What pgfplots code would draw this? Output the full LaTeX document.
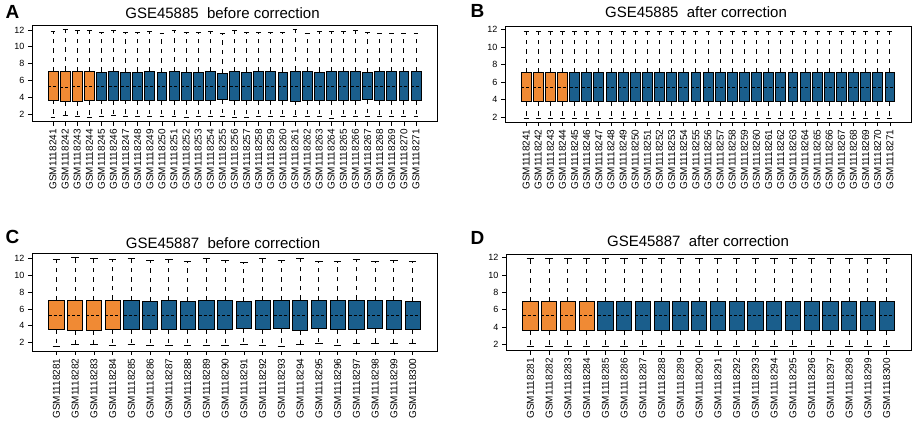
\documentclass[border=0pt]{standalone}
\usepackage{pgfplots}
\usepgfplotslibrary{statistics}
\pgfplotsset{compat=1.18}
\usepackage{fontspec}
\setmainfont{Liberation Sans}

\definecolor{cOr}{RGB}{240,138,52}
\definecolor{cBl}{RGB}{26,94,140}

% one prepared box: style, position, lower whisker, lower quartile, median, upper quartile, upper whisker
\newcommand\bx[7]{\addplot[#1, boxplot prepared={draw position=#2,
  lower whisker=#3, lower quartile=#4, median=#5, upper quartile=#6, upper whisker=#7}] coordinates {};}

\pgfplotsset{
  panel/.style={
    scale only axis, anchor=south west,
    tick align=outside, tick pos=left,
    major tick length=4pt,
    ytick={2,4,6,8,10,12},
    xtick={1,...,#1},
    /pgf/number format/assume math mode=true,
    xticklabel style={rotate=90, anchor=east, font=\fontsize{10}{10}\selectfont},
    yticklabel style={font=\fontsize{9}{9}\selectfont},
    axis line style={line width=0.9pt},
    every tick/.style={black, line width=0.7pt},
    boxplot/draw direction=y,
    boxplot/box extend=0.82,
    boxplot/whisker extend=0.4,
    boxplot/every median/.style={dash pattern=on 3pt off 2pt, line width=1pt},
    boxplot/draw/lower whisker/.code={%
      \draw[dash pattern=on 4.5pt off 5pt]
        (boxplot cs:\pgfplotsboxplotvalue{lower quartile}) --
        (boxplot cs:\pgfplotsboxplotvalue{lower whisker});
      \draw (boxplot whisker cs:\pgfplotsboxplotvalue{lower whisker},0) --
        (boxplot whisker cs:\pgfplotsboxplotvalue{lower whisker},1);
    },
    boxplot/draw/upper whisker/.code={%
      \draw[dash pattern=on 4.5pt off 5pt]
        (boxplot cs:\pgfplotsboxplotvalue{upper quartile}) --
        (boxplot cs:\pgfplotsboxplotvalue{upper whisker});
      \draw (boxplot whisker cs:\pgfplotsboxplotvalue{upper whisker},0) --
        (boxplot whisker cs:\pgfplotsboxplotvalue{upper whisker},1);
    },
  },
  ob/.style={black, line width=0.9pt, boxplot/every box/.style={fill=cOr, draw=black, line width=0.8pt}},
  bb/.style={black, line width=0.9pt, boxplot/every box/.style={fill=cBl, draw=black, line width=0.8pt}},
}

\tikzset{
  ptitle/.style={anchor=base, font=\fontsize{15}{15}\selectfont},
  pletter/.style={anchor=base west, font=\bfseries\fontsize{19}{19}\selectfont},
}

\begin{document}
\begin{tikzpicture}
\useasboundingbox (0,0) rectangle (913pt,428pt);

% ---------------- A ----------------
\begin{axis}[panel=31, at={(32pt,306.3pt)}, width=405pt, height=96.7pt,
  xmin=-0.74, xmax=32.74, ymin=1.12, ymax=12.59,
  xticklabels={GSM1118241,GSM1118242,GSM1118243,GSM1118244,GSM1118245,GSM1118246,
    GSM1118247,GSM1118248,GSM1118249,GSM1118250,GSM1118251,GSM1118252,GSM1118253,
    GSM1118254,GSM1118255,GSM1118256,GSM1118257,GSM1118258,GSM1118259,GSM1118260,
    GSM1118261,GSM1118262,GSM1118263,GSM1118264,GSM1118265,GSM1118266,GSM1118267,
    GSM1118268,GSM1118269,GSM1118270,GSM1118271}]
\bx{ob}{1}{1.64}{3.70}{5.30}{7.06}{11.80}
\bx{ob}{2}{1.92}{3.54}{5.22}{7.14}{12.08}
\bx{ob}{3}{1.80}{3.56}{5.25}{7.06}{12.00}
\bx{ob}{4}{1.64}{3.62}{5.30}{7.06}{11.92}
\bx{bb}{5}{1.72}{3.70}{5.28}{7.02}{11.72}
\bx{bb}{6}{1.92}{3.68}{5.28}{7.08}{11.92}
\bx{bb}{7}{1.72}{3.70}{5.30}{6.98}{11.72}
\bx{bb}{8}{1.72}{3.68}{5.28}{7.02}{11.72}
\bx{bb}{9}{1.72}{3.66}{5.28}{7.04}{11.80}
\bx{bb}{10}{1.72}{3.64}{5.26}{7.00}{11.60}
\bx{bb}{11}{1.80}{3.62}{5.30}{7.12}{12.00}
\bx{bb}{12}{1.64}{3.68}{5.28}{7.02}{11.72}
\bx{bb}{13}{1.72}{3.68}{5.28}{7.02}{11.72}
\bx{bb}{14}{1.72}{3.64}{5.26}{7.04}{11.80}
\bx{bb}{15}{1.72}{3.78}{5.30}{6.88}{11.55}
\bx{bb}{16}{1.64}{3.62}{5.28}{7.06}{11.92}
\bx{bb}{17}{1.64}{3.66}{5.28}{7.02}{11.72}
\bx{bb}{18}{1.72}{3.66}{5.28}{7.04}{11.72}
\bx{bb}{19}{1.72}{3.64}{5.28}{7.04}{11.72}
\bx{bb}{20}{1.72}{3.66}{5.28}{7.02}{11.72}
\bx{bb}{21}{1.72}{3.58}{5.26}{7.14}{12.08}
\bx{bb}{22}{1.72}{3.66}{5.28}{7.04}{11.53}
\bx{bb}{23}{1.80}{3.68}{5.28}{7.02}{11.80}
\bx{bb}{24}{1.56}{3.62}{5.28}{7.04}{11.80}
\bx{bb}{25}{1.72}{3.64}{5.28}{7.06}{11.80}
\bx{bb}{26}{1.72}{3.66}{5.28}{7.04}{12.00}
\bx{bb}{27}{1.80}{3.80}{5.30}{6.96}{11.72}
\bx{bb}{28}{1.72}{3.62}{5.28}{7.06}{11.53}
\bx{bb}{29}{1.80}{3.66}{5.28}{7.04}{11.60}
\bx{bb}{30}{1.72}{3.66}{5.28}{7.04}{11.60}
\bx{bb}{31}{1.72}{3.66}{5.28}{7.04}{11.60}
\end{axis}
\node[pletter] at (2pt,409.7pt) {A};
\node[ptitle] at (222.5pt,409.7pt) {GSE45885\ \ before correction};

% ---------------- B ----------------
\begin{axis}[panel=31, at={(505pt,306pt)}, width=406pt, height=95.3pt,
  xmin=-0.74, xmax=32.74, ymin=1.47, ymax=12.3,
  xticklabels={GSM1118241,GSM1118242,GSM1118243,GSM1118244,GSM1118245,GSM1118246,
    GSM1118247,GSM1118248,GSM1118249,GSM1118250,GSM1118251,GSM1118252,GSM1118253,
    GSM1118254,GSM1118255,GSM1118256,GSM1118257,GSM1118258,GSM1118259,GSM1118260,
    GSM1118261,GSM1118262,GSM1118263,GSM1118264,GSM1118265,GSM1118266,GSM1118267,
    GSM1118268,GSM1118269,GSM1118270,GSM1118271}]
\pgfplotsinvokeforeach{1,...,4}{\bx{ob}{#1}{1.90}{3.77}{5.36}{7.07}{11.73}}
\pgfplotsinvokeforeach{5,...,31}{\bx{bb}{#1}{1.90}{3.77}{5.36}{7.07}{11.73}}
\end{axis}
\node[pletter] at (467pt,410pt) {B};
\node[ptitle] at (696pt,410pt) {GSE45885\ \ after correction};

% ---------------- C ----------------
\begin{axis}[panel=20, at={(32pt,77pt)}, width=405pt, height=97.7pt,
  xmin=-0.3, xmax=21.3, ymin=1.02, ymax=12.59,
  xticklabels={GSM1118281,GSM1118282,GSM1118283,GSM1118284,GSM1118285,GSM1118286,
    GSM1118287,GSM1118288,GSM1118289,GSM1118290,GSM1118291,GSM1118292,GSM1118293,
    GSM1118294,GSM1118295,GSM1118296,GSM1118297,GSM1118298,GSM1118299,GSM1118300}]
\bx{ob}{1}{1.61}{3.62}{5.24}{6.98}{11.88}
\bx{ob}{2}{1.77}{3.42}{5.20}{6.98}{12.11}
\bx{ob}{3}{1.85}{3.50}{5.22}{6.98}{12.00}
\bx{ob}{4}{1.69}{3.58}{5.26}{7.06}{11.88}
\bx{bb}{5}{1.77}{3.58}{5.24}{6.98}{12.00}
\bx{bb}{6}{1.69}{3.62}{5.26}{6.90}{11.72}
\bx{bb}{7}{1.69}{3.62}{5.26}{6.98}{11.88}
\bx{bb}{8}{1.69}{3.62}{5.26}{6.90}{11.64}
\bx{bb}{9}{1.69}{3.58}{5.22}{6.98}{11.96}
\bx{bb}{10}{1.69}{3.62}{5.24}{6.98}{11.80}
\bx{bb}{11}{1.77}{3.74}{5.28}{6.87}{11.56}
\bx{bb}{12}{1.69}{3.58}{5.22}{6.98}{11.96}
\bx{bb}{13}{1.61}{3.64}{5.26}{6.98}{11.72}
\bx{bb}{14}{1.77}{3.50}{5.22}{7.06}{12.00}
\bx{bb}{15}{1.93}{3.70}{5.26}{6.98}{11.60}
\bx{bb}{16}{1.69}{3.62}{5.24}{7.02}{11.60}
\bx{bb}{17}{1.93}{3.62}{5.26}{7.06}{11.88}
\bx{bb}{18}{1.93}{3.66}{5.24}{6.98}{11.60}
\bx{bb}{19}{1.93}{3.62}{5.24}{6.98}{11.72}
\bx{bb}{20}{1.93}{3.62}{5.24}{6.94}{11.60}
\end{axis}
\node[pletter] at (2pt,184.7pt) {C};
\node[ptitle] at (223pt,179.7pt) {GSE45887\ \ before correction};

% ---------------- D ----------------
\begin{axis}[panel=20, at={(506pt,77.3pt)}, width=405pt, height=96.4pt,
  xmin=-0.3, xmax=21.3, ymin=1.26, ymax=12.39,
  xticklabels={GSM1118281,GSM1118282,GSM1118283,GSM1118284,GSM1118285,GSM1118286,
    GSM1118287,GSM1118288,GSM1118289,GSM1118290,GSM1118291,GSM1118292,GSM1118293,
    GSM1118294,GSM1118295,GSM1118296,GSM1118297,GSM1118298,GSM1118299,GSM1118300}]
\pgfplotsinvokeforeach{1,...,4}{\bx{ob}{#1}{1.72}{3.57}{5.27}{6.92}{11.88}}
\pgfplotsinvokeforeach{5,...,20}{\bx{bb}{#1}{1.72}{3.57}{5.27}{6.92}{11.88}}
\end{axis}
\node[pletter] at (467pt,183.7pt) {D};
\node[ptitle] at (698pt,181pt) {GSE45887\ \ after correction};

\end{tikzpicture}
\end{document}
